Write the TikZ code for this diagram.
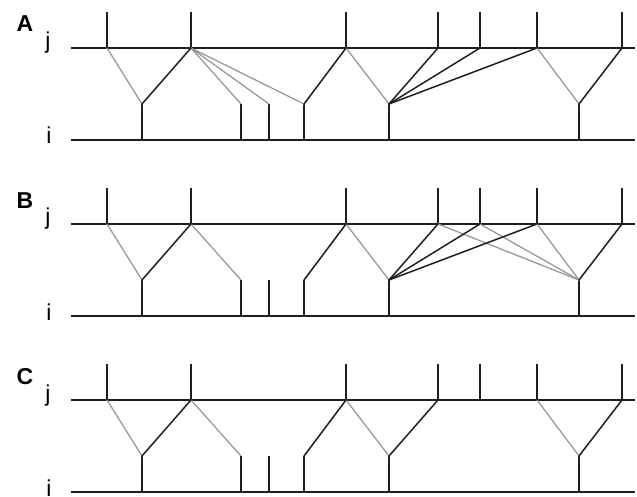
\documentclass[tikz,border=0pt]{standalone}
\usepackage{fontspec}
\setmainfont{Liberation Sans}
\begin{document}
\begin{tikzpicture}[x=1pt,y=-1pt,
  dk/.style={draw=black!88, line width=1.5pt},
  gr/.style={draw=black!40, line width=1.3pt},
  plab/.style={font=\fontsize{23}{23}\selectfont\bfseries, inner sep=0pt, anchor=base},
  llab/.style={font=\fontsize{23}{23}\selectfont, inner sep=0pt, anchor=base}]
\useasboundingbox (0,0) rectangle (637,497);
\foreach \p/\y in {A/48,B/224,C/400} {
  \coordinate (\p-jl) at (71,\y);
  \coordinate (\p-jr) at (635,\y);
  \coordinate (\p-il) at (71,\y+92);
  \coordinate (\p-ir) at (635,\y+92);
  \foreach \n/\x in {1/107,2/191,3/346,4/438,5/480,6/537,7/622} {
    \coordinate (\p-t\n) at (\x,\y);
    \coordinate (\p-u\n) at (\x,\y-36);
  }
  \foreach \n/\x in {1/142,2/241,3/269,4/304,5/389,6/579} {
    \coordinate (\p-b\n) at (\x,\y+56);
    \coordinate (\p-g\n) at (\x,\y+92);
  }
  \node[plab] (\p-lab) at (25,\y-16) {\p};
  \node[llab] (\p-jlab) at (48,\y+1) {j};
  \node[llab] (\p-ilab) at (49,\y+96) {i};
  \draw[dk] (\p-jl) -- (\p-jr);
  \draw[dk] (\p-il) -- (\p-ir);
  \foreach \n in {1,...,7} { \draw[dk] (\p-t\n) -- (\p-u\n); }
  \foreach \n in {1,...,6} { \draw[dk] (\p-b\n) -- (\p-g\n); }
}
% Panel A
\draw[gr] (A-t1) -- (A-b1);
\draw[gr] (A-t2) -- (A-b2);
\draw[gr] (A-t2) -- (A-b3);
\draw[gr] (A-t2) -- (A-b4);
\draw[gr] (A-t3) -- (A-b5);
\draw[gr] (A-t6) -- (A-b6);
\draw[dk] (A-t2) -- (A-b1);
\draw[dk] (A-t3) -- (A-b4);
\draw[dk] (A-t4) -- (A-b5);
\draw[dk] (A-t5) -- (A-b5);
\draw[dk] (A-t6) -- (A-b5);
\draw[dk] (A-t7) -- (A-b6);
% Panel B
\draw[gr] (B-t1) -- (B-b1);
\draw[gr] (B-t2) -- (B-b2);
\draw[gr] (B-t3) -- (B-b5);
\draw[gr] (B-t4) -- (B-b6);
\draw[gr] (B-t5) -- (B-b6);
\draw[gr] (B-t6) -- (B-b6);
\draw[dk] (B-t2) -- (B-b1);
\draw[dk] (B-t3) -- (B-b4);
\draw[dk] (B-t4) -- (B-b5);
\draw[dk] (B-t5) -- (B-b5);
\draw[dk] (B-t6) -- (B-b5);
\draw[dk] (B-t7) -- (B-b6);
% Panel C
\draw[gr] (C-t1) -- (C-b1);
\draw[gr] (C-t2) -- (C-b2);
\draw[gr] (C-t3) -- (C-b5);
\draw[gr] (C-t6) -- (C-b6);
\draw[dk] (C-t2) -- (C-b1);
\draw[dk] (C-t3) -- (C-b4);
\draw[dk] (C-t4) -- (C-b5);
\draw[dk] (C-t7) -- (C-b6);
\end{tikzpicture}
\end{document}
